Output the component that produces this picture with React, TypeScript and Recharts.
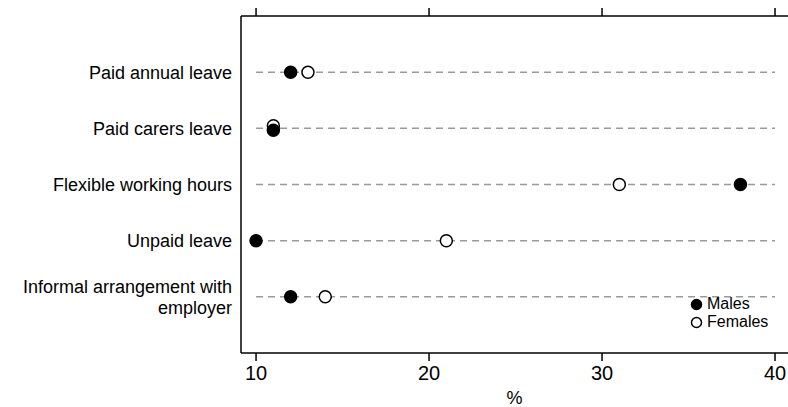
import {
  ScatterChart,
  Scatter,
  XAxis,
  YAxis,
  ReferenceLine,
  Label,
} from 'recharts'

const categories = [
  'Paid annual leave',
  'Paid carers leave',
  'Flexible working hours',
  'Unpaid leave',
  'Informal arrangement with employer',
]
const males = [12, 11, 38, 10, 12]
const females = [13, 11, 31, 21, 14]
const xTicks = [10, 20, 30, 40]
const lineFrom = 10
const lineTo = 40

const FONT = '"Liberation Sans", Arial, sans-serif'

const rows = categories.map((name, i) => ({ name, y: i + 1 }))
const malesData = rows.map((r, i) => ({ x: males[i], y: r.y, other: females[i] }))
const femalesData = rows.map((r, i) => ({ x: females[i], y: r.y, other: males[i] }))

// split long category names over two lines
function wrap(text: string, max = 25) {
  const lines: string[] = []
  let cur = ''
  text.split(' ').forEach((w) => {
    const next = cur ? `${cur} ${w}` : w
    if (next.length > max && cur) {
      lines.push(cur)
      cur = w
    } else {
      cur = next
    }
  })
  if (cur) lines.push(cur)
  return lines
}

function CategoryTick(props: any) {
  const { x, y, payload } = props
  const name = categories[payload.value - 1]
  if (!name) return null
  const lines = wrap(name)
  const lh = 21
  const start = -((lines.length - 1) * lh) / 2
  return (
    <text
      x={x}
      y={y}
      textAnchor="end"
      fontSize={18}
      fontFamily={FONT}
      fill="#000"
    >
      {lines.map((l, i) => (
        <tspan key={i} x={x} dy={i === 0 ? start + 6.5 : lh}>
          {l}
        </tspan>
      ))}
    </text>
  )
}

// top axis keeps its tick marks but shows no numbers
const NoLabel = () => <g />

// nudge the two markers apart when they share a value
function Dot({ cx, cy, payload, filled }: any) {
  const same = payload.x === payload.other
  const dy = same ? (filled ? 2 : -2.5) : 0
  return (
    <circle
      cx={cx}
      cy={cy + dy}
      r={6}
      fill={filled ? '#000' : '#fff'}
      stroke="#000"
      strokeWidth={1.5}
    />
  )
}

export default function App() {
  return (
    <div style={{ position: 'absolute', left: 0, top: 0, width: 788, height: 407 }}>
      <ScatterChart
        width={788}
        height={407}
        margin={{ top: 0, right: 0, bottom: 0, left: 0 }}
      >
        <XAxis
          xAxisId="top"
          orientation="top"
          type="number"
          dataKey="x"
          domain={[9.13, 40.75]}
          ticks={xTicks}
          tick={<NoLabel />}
          tickSize={8}
          height={16}
          axisLine={{ stroke: '#000', strokeWidth: 1.5 }}
          tickLine={{ stroke: '#000', strokeWidth: 1.5 }}
          allowDataOverflow
        />
        <XAxis
          type="number"
          dataKey="x"
          domain={[9.13, 40.75]}
          ticks={xTicks}
          tickSize={8}
          tickMargin={5}
          height={54}
          axisLine={{ stroke: '#000', strokeWidth: 1.5 }}
          tickLine={{ stroke: '#000', strokeWidth: 1.5 }}
          tick={{ fontSize: 20, fontFamily: FONT, fill: '#000' }}
          allowDataOverflow
        >
          <Label
            value="%"
            position="insideBottom"
            offset={3}
            style={{ fontSize: 18, fontFamily: FONT, fill: '#000' }}
          />
        </XAxis>
        <YAxis
          type="number"
          dataKey="y"
          domain={[0, 6]}
          reversed
          ticks={[1, 2, 3, 4, 5]}
          width={241}
          tickSize={0}
          tickMargin={9}
          tickLine={false}
          axisLine={{ stroke: '#000', strokeWidth: 1.5 }}
          tick={<CategoryTick />}
        />
        {rows.map((r) => (
          <ReferenceLine
            key={r.name}
            segment={[
              { x: lineFrom, y: r.y },
              { x: lineTo, y: r.y },
            ]}
            stroke="#999"
            strokeWidth={1.5}
            strokeDasharray="7 5"
          />
        ))}
        <Scatter
          name="Females"
          data={femalesData}
          isAnimationActive={false}
          shape={(p: any) => <Dot {...p} filled={false} />}
        />
        <Scatter
          name="Males"
          data={malesData}
          isAnimationActive={false}
          shape={(p: any) => <Dot {...p} filled />}
        />
      </ScatterChart>
      <div
        style={{
          position: 'absolute',
          left: 690,
          top: 295,
          fontFamily: FONT,
          fontSize: 16,
          lineHeight: '18px',
          color: '#000',
        }}
      >
        {[
          { label: 'Males', filled: true },
          { label: 'Females', filled: false },
        ].map((item) => (
          <div key={item.label} style={{ display: 'flex', alignItems: 'center', height: 18 }}>
            <svg width={13} height={13} style={{ marginRight: 4 }}>
              <circle
                cx={6.5}
                cy={6.5}
                r={5}
                fill={item.filled ? '#000' : '#fff'}
                stroke="#000"
                strokeWidth={1.5}
              />
            </svg>
            {item.label}
          </div>
        ))}
      </div>
    </div>
  )
}
